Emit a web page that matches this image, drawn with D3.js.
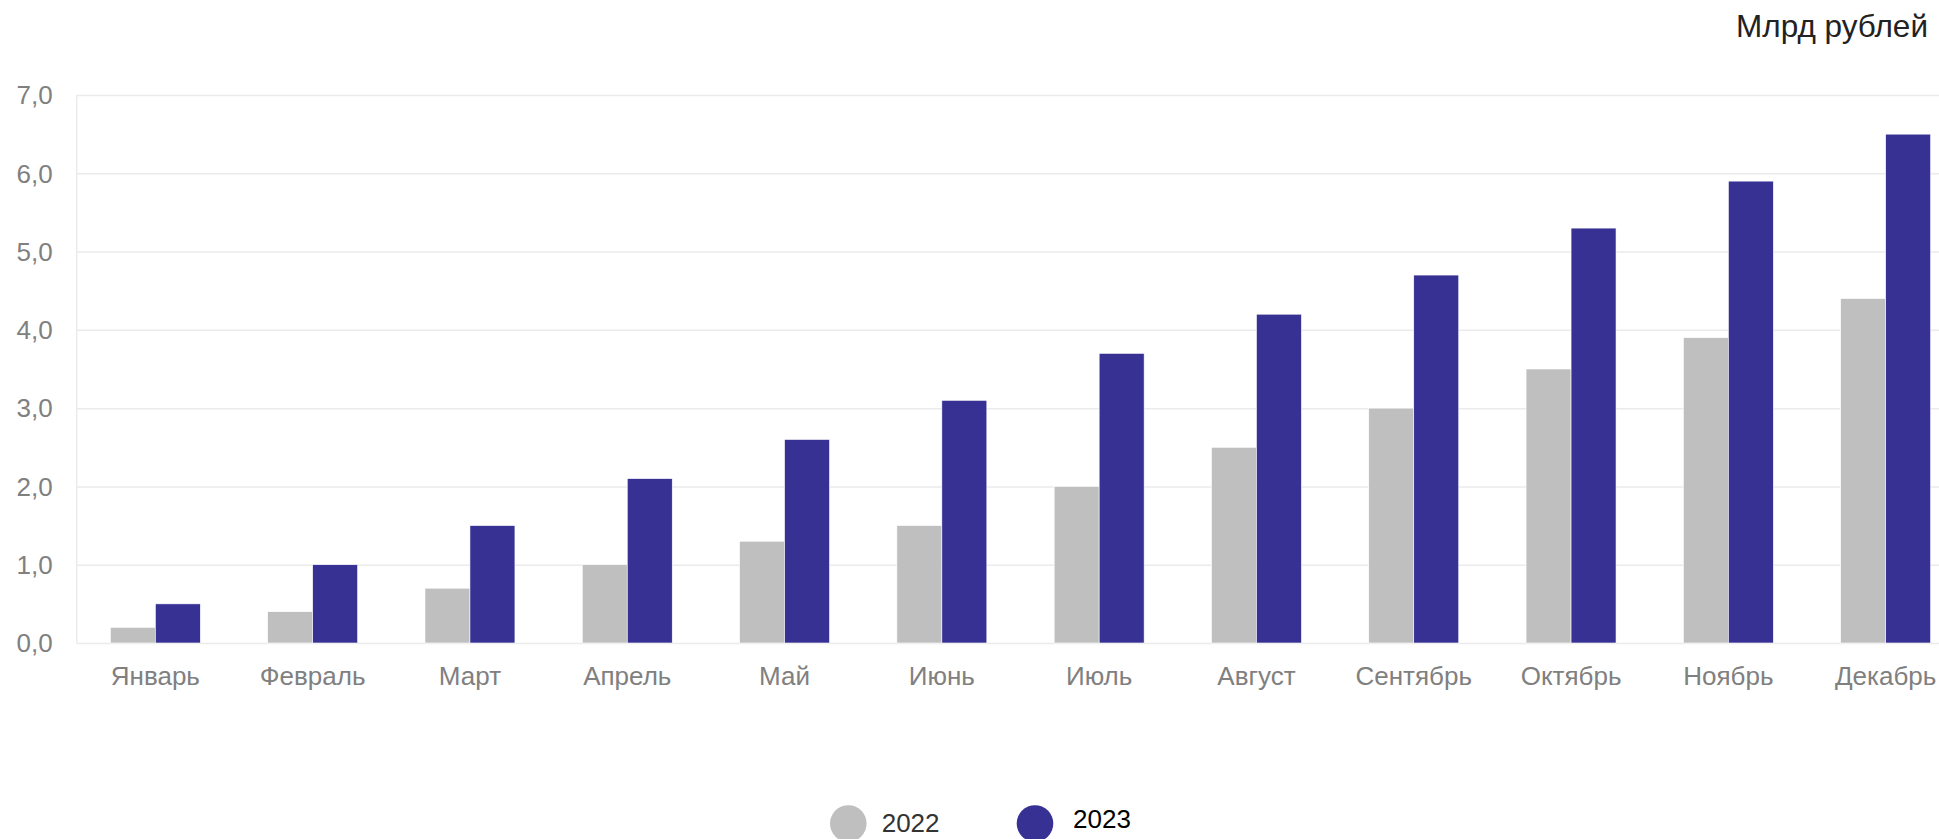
<!DOCTYPE html>
<html>
<head>
<meta charset="utf-8">
<script src="https://cdn.jsdelivr.net/npm/d3@7"></script>
<style>
  html, body { margin: 0; padding: 0; background: #fff; overflow: hidden; }
  svg { display: block; font-family: "Liberation Sans", Arial, sans-serif; }
</style>
</head>
<body>
<svg id="chart" width="1939" height="839"></svg>
<script>
const months = ["Январь","Февраль","Март","Апрель","Май","Июнь","Июль","Август","Сентябрь","Октябрь","Ноябрь","Декабрь"];
const seriesNames = ["2022","2023"];
const values2022 = [0.2, 0.4, 0.7, 1.0, 1.3, 1.5, 2.0, 2.5, 3.0, 3.5, 3.9, 4.4];
const values2023 = [0.5, 1.0, 1.5, 2.1, 2.6, 3.1, 3.7, 4.2, 4.7, 5.3, 5.9, 6.5];
const yTicks = [0, 1, 2, 3, 4, 5, 6, 7];
const yTickLabels = ["0,0","1,0","2,0","3,0","4,0","5,0","6,0","7,0"];
const unitLabel = "Млрд рублей";
const colors = ["#bfbfbf", "#363193"];

(function () {
const W = 1939, H = 839;
const plotLeft = 76.7, plotRight = 1964.3, plotTop = 95, plotBottom = 643;
const svg = d3.select("#chart");

const y = d3.scaleLinear().domain([0, 7]).range([plotBottom, plotTop]);
const x0 = d3.scaleBand().domain(months).range([plotLeft, plotRight]).paddingInner(0.428).paddingOuter(0.214);
const x1 = d3.scaleBand().domain(seriesNames).range([0, x0.bandwidth()]);

// grid + y axis
const yAxis = d3.axisLeft(y).tickValues(yTicks)
  .tickFormat((d, i) => yTickLabels[i])
  .tickSize(-(W - plotLeft)).tickPadding(24);
const gy = svg.append("g").attr("transform", `translate(${plotLeft},0)`).call(yAxis);
gy.select(".domain").attr("stroke", "#ebebeb").attr("stroke-width", 1.5).attr("d", `M0,${plotTop}V${plotBottom}`);
gy.selectAll(".tick line").attr("stroke", "#ebebeb").attr("stroke-width", 1.5);
gy.selectAll(".tick text").attr("fill", "#808080").attr("font-size", 26)
  .attr("font-family", "Liberation Sans, Arial, sans-serif").attr("dy", "0.34em");

// bars
const data = months.map((m, i) => ({ month: m, vals: [values2022[i], values2023[i]] }));
const groups = svg.append("g").selectAll("g").data(data).join("g")
  .attr("transform", d => `translate(${x0(d.month)},0)`);
groups.selectAll("rect").data(d => d.vals.map((v, j) => ({ key: seriesNames[j], v, j })))
  .join("rect")
  .attr("x", d => x1(d.key))
  .attr("width", x1.bandwidth())
  .attr("y", d => y(d.v))
  .attr("height", d => y(0) - y(d.v))
  .attr("fill", d => colors[d.j])
  .attr("stroke", "#ffffff").attr("stroke-width", 0.6);

// x axis labels
const xAxis = d3.axisBottom(x0).tickSize(0).tickPadding(23.5);
const gx = svg.append("g").attr("transform", `translate(0,${plotBottom})`).call(xAxis);
gx.select(".domain").remove();
gx.selectAll(".tick text").attr("fill", "#808080").attr("font-size", 26)
  .attr("font-family", "Liberation Sans, Arial, sans-serif");

// unit label
svg.append("text").attr("x", 1928).attr("y", 37).attr("text-anchor", "end")
  .attr("font-size", 31.5).attr("fill", "#222").text(unitLabel);

// legend
const legendPos = [{cx: 848.3, tx: 881.7, ty: 831.7, tc: "#333"}, {cx: 1035, tx: 1073, ty: 828, tc: "#000"}];
const lg = svg.append("g").selectAll("g").data(seriesNames).join("g");
lg.append("circle").attr("cx", (d, i) => legendPos[i].cx).attr("cy", 823.5).attr("r", 18.3)
  .attr("fill", (d, i) => colors[i]);
lg.append("text").attr("x", (d, i) => legendPos[i].tx).attr("y", (d, i) => legendPos[i].ty)
  .attr("font-size", 26).attr("fill", (d, i) => legendPos[i].tc).text(d => d);
})();
</script>
</body>
</html>
